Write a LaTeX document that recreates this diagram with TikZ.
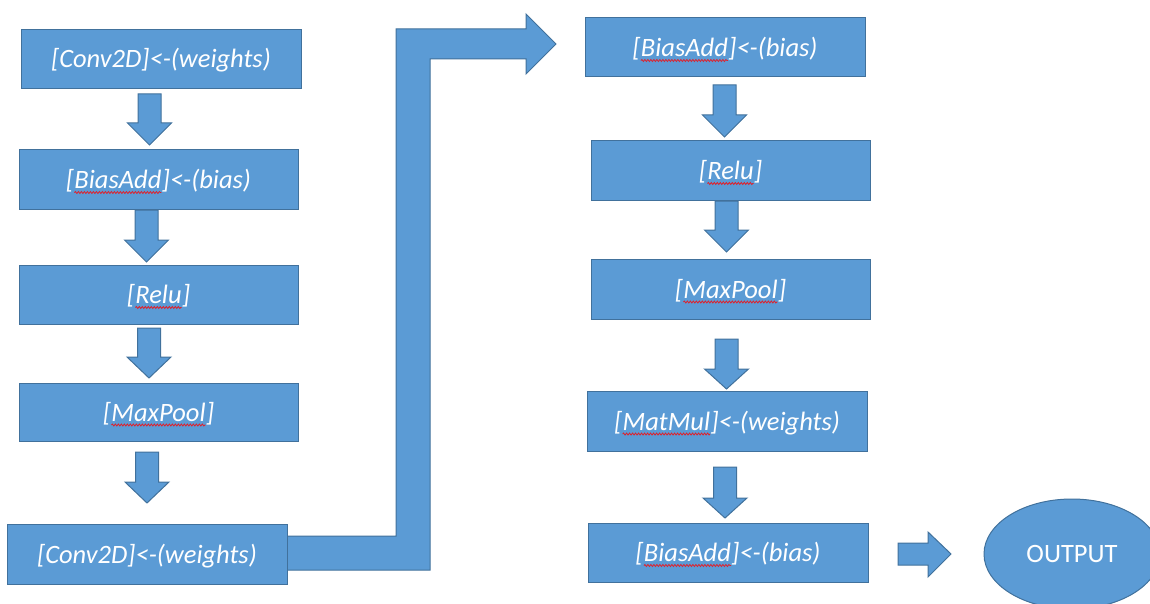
\documentclass[tikz,border=0pt]{standalone}
\usepackage{fontspec}
\setmainfont{Carlito}
\usetikzlibrary{decorations.pathmorphing,shapes.geometric}
\definecolor{boxfill}{HTML}{5B9BD5}
\definecolor{boxline}{HTML}{41719C}
\definecolor{squigred}{HTML}{E0202A}
\tikzset{
  box/.style={draw=boxline, fill=boxfill, line width=1pt, text=white,
    font=\fontsize{26.5}{30}\selectfont\itshape, inner sep=0pt,
    text height=23pt, text depth=5pt,
    minimum width=280pt, minimum height=59pt},
  blk/.style={draw=boxline, fill=boxfill, line width=1pt, line join=miter},
  outnode/.style={ellipse, draw=boxline, fill=boxfill, line width=1pt, text=white,
    font=\fontsize{26.5}{30}\selectfont, inner sep=0pt,
    minimum width=176pt, minimum height=110pt}
}
\newcommand\sqw[1]{\tikz[baseline=(sqw.base)]{\node[inner sep=0pt,outer sep=0pt,draw=none,fill=none,shape=rectangle,minimum width=0pt,minimum height=0pt,text height=,text depth=,text=white](sqw){#1};\draw[squigred,line width=0.8pt,decorate,decoration={snake,amplitude=1pt,segment length=3pt}] ([yshift=-4pt]sqw.base west) -- ([yshift=-4pt]sqw.base east);}}
\newcommand\downblk[4]{\draw[blk] (#1-11.5,#2) -- (#1+11.5,#2) -- (#1+11.5,#3) -- (#1+22,#3) -- (#1,#4) -- (#1-22,#3) -- (#1-11.5,#3) -- cycle;}
\begin{document}
\begin{tikzpicture}[x=1pt,y=-1pt]
\useasboundingbox (0,0) rectangle (1150,604);
% elbow arrow
\draw[blk] (280,536) -- (396,536) -- (396,29) -- (526,29) -- (526,14) -- (556,44) -- (526,74) -- (526,59) -- (430,59) -- (430,570) -- (280,570) -- cycle;
% left column
\node[box] (c1) at (161,59) {[Conv2D]<-(weights)};
\node[box, minimum width=279pt] (b1) at (158.5,179.5) {[\sqw{BiasAdd}]<-(bias)};
\node[box, minimum width=279pt] (r1) at (158.5,294.5) {[\sqw{Relu}]};
\node[box, minimum width=279pt, minimum height=58pt] (m1) at (158.5,412) {[\sqw{MaxPool}]};
\node[box, minimum height=60pt] (c2) at (147,554) {[Conv2D]<-(weights)};
% right column
\node[box] (b2) at (725,47.5) {[\sqw{BiasAdd}]<-(bias)};
\node[box, minimum width=279pt] (r2) at (730.5,170.5) {[\sqw{Relu}]};
\node[box, minimum width=279pt, minimum height=60pt] (m2) at (730.5,289) {[\sqw{MaxPool}]};
\node[box, minimum height=60pt] (mm) at (727,421) {[\sqw{MatMul}]<-(weights)};
\node[box] (b3) at (728,552.5) {[\sqw{BiasAdd}]<-(bias)};
\node[outnode] (out) at (1072,554) {OUTPUT};
% down arrows
\downblk{149.5}{94}{123}{145}
\downblk{146.5}{210}{240}{262}
\downblk{149}{328}{357}{378}
\downblk{147}{452}{482}{503}
\downblk{724.5}{85}{115}{137}
\downblk{726.5}{201}{230}{252}
\downblk{726.5}{339}{369}{389}
\downblk{725}{467}{498}{518}
% right arrow
\draw[blk] (898,543) -- (928,543) -- (928,532) -- (951,554) -- (928,577) -- (928,565) -- (898,565) -- cycle;
\end{tikzpicture}
\end{document}
